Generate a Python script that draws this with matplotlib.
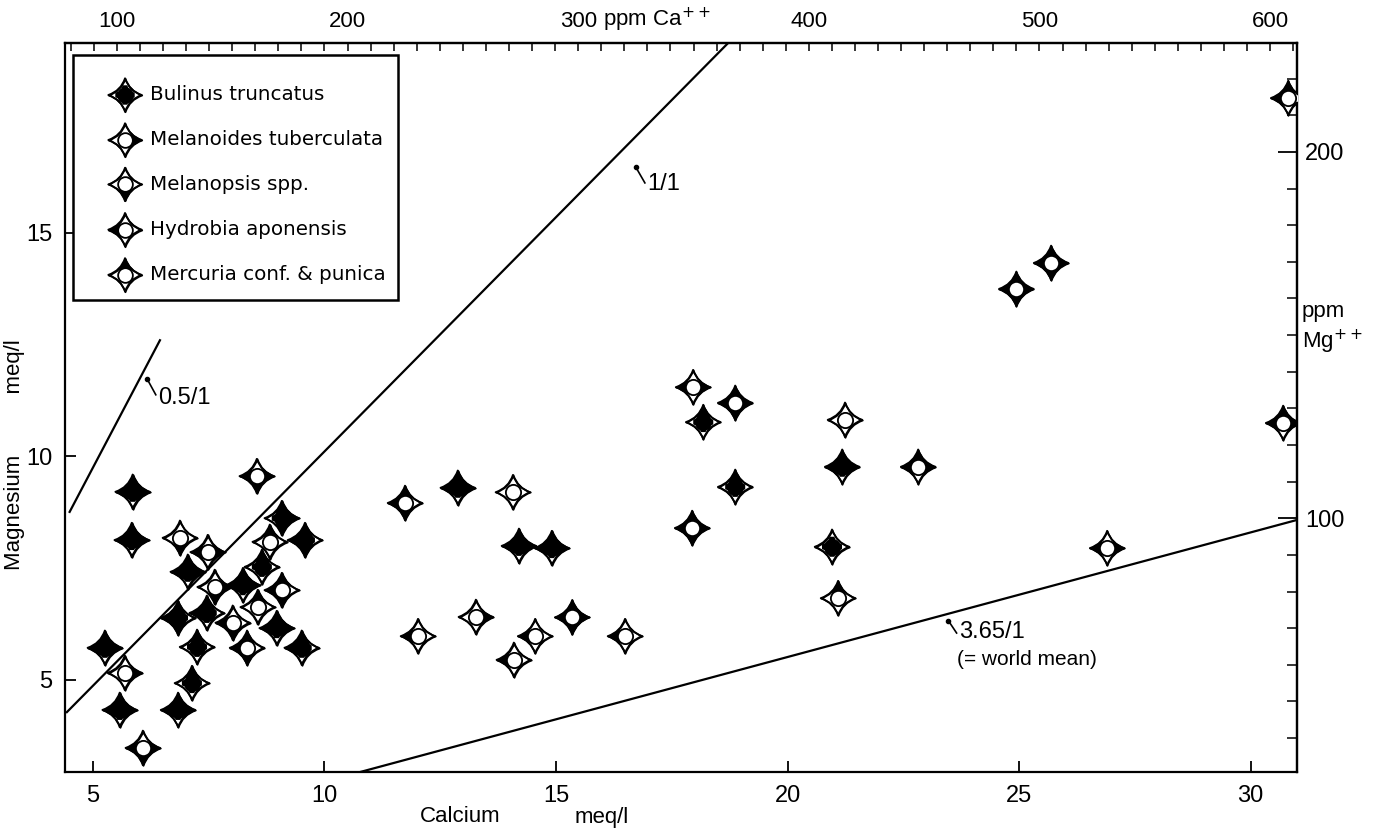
import numpy as np
import matplotlib
matplotlib.use("Agg")
import matplotlib.pyplot as plt
from matplotlib.path import Path
from matplotlib.ticker import MultipleLocator, FixedLocator
from matplotlib import font_manager

# sites: calcium / magnesium in meq/l and the snails found there (1 = present)
ca_meq = [5.86, 8.54, 5.84, 6.88, 7.48, 7.05, 9.08, 8.82, 9.58, 8.65,
          7.63, 8.24, 9.08, 8.56, 6.84, 7.46, 8.02, 8.97, 5.26, 7.25,
          8.33, 9.51, 5.69, 7.14, 5.58, 6.84, 6.08,
          11.74, 12.02, 12.88, 14.07, 14.20, 14.91, 13.27, 14.55, 15.35, 14.09, 16.49,
          17.96, 18.87, 18.18, 21.24, 18.87, 21.18, 22.82, 17.94, 20.96, 21.09,
          26.90, 24.94, 25.69, 30.81, 30.70]
mg_meq = [9.21, 9.56, 8.13, 8.18, 7.86, 7.42, 8.62, 8.09, 8.13, 7.53,
          7.08, 7.12, 7.01, 6.63, 6.39, 6.50, 6.28, 6.16, 5.72, 5.74,
          5.72, 5.72, 5.16, 4.93, 4.33, 4.33, 3.48,
          8.96, 5.98, 9.30, 9.20, 8.00, 7.95, 6.41, 5.98, 6.40, 5.45, 5.98,
          11.55, 11.20, 10.77, 10.82, 9.32, 9.77, 9.77, 8.40, 7.98, 6.83,
          7.95, 13.75, 14.33, 18.02, 10.75]
bulinus    = [1, 0, 1, 0, 0, 1, 1, 0, 1, 1, 0, 1, 0, 0, 1, 1, 0, 1, 1, 1,
              0, 1, 0, 1, 1, 1, 0,
              0, 0, 1, 0, 1, 1, 0, 0, 0, 0, 0,
              0, 0, 1, 0, 1, 1, 0, 0, 1, 0,
              0, 0, 0, 0, 0]
melanoides = [1, 1, 1, 0, 1, 1, 1, 0, 0, 0, 1, 1, 0, 0, 0, 0, 0, 1, 1, 0,
              0, 0, 1, 0, 1, 1, 1,
              0, 0, 1, 0, 1, 1, 1, 0, 1, 0, 0,
              1, 1, 0, 0, 0, 1, 1, 1, 0, 0,
              1, 1, 1, 0, 1]
melanopsis = [0, 1, 0, 1, 0, 0, 1, 0, 1, 0, 1, 0, 1, 0, 1, 0, 1, 0, 0, 0,
              1, 0, 0, 0, 0, 0, 1,
              1, 0, 0, 0, 0, 0, 0, 0, 1, 0, 0,
              0, 1, 0, 0, 0, 0, 0, 1, 0, 0,
              0, 1, 1, 0, 0]
hydrobia   = [1, 1, 1, 0, 1, 1, 0, 0, 1, 0, 0, 1, 1, 0, 1, 1, 1, 1, 1, 0,
              1, 1, 0, 0, 1, 1, 1,
              1, 1, 1, 0, 1, 1, 0, 1, 1, 1, 1,
              1, 1, 0, 0, 0, 1, 1, 1, 0, 0,
              1, 1, 1, 1, 1]
mercuria   = [1, 0, 1, 0, 0, 1, 1, 1, 1, 1, 0, 1, 1, 1, 1, 1, 0, 1, 1, 1,
              1, 1, 0, 1, 1, 1, 0,
              1, 0, 1, 0, 1, 1, 0, 0, 1, 0, 0,
              0, 1, 1, 0, 1, 1, 1, 1, 0, 1,
              0, 1, 1, 1, 1]

species = ["Bulinus truncatus", "Melanoides tuberculata", "Melanopsis spp.",
           "Hydrobia aponensis", "Mercuria conf. & punica"]

# ratio lines (Ca, Mg end points in meq/l)
line_1_1 = ([4.44, 19.08], [4.28, 19.63])
line_05_1 = ([4.50, 6.45], [8.76, 12.60])
line_365_1 = ([10.77, 31.0], [2.94, 8.58])

# secondary scales as drawn on the figure
def ca_meq_to_ppm(v):
    return (np.asarray(v) - 0.54) / 0.0498

def ca_ppm_to_meq(v):
    return np.asarray(v) * 0.0498 + 0.54

def mg_meq_to_ppm(v):
    return (np.asarray(v) - 0.42) * 12.2

def mg_ppm_to_meq(v):
    return np.asarray(v) / 12.2 + 0.42


# ---- marker pieces: four-pointed star with a central disc ----
C = 0.25
TIPS = [(0, 1), (1, 0), (0, -1), (-1, 0)]


def star_path():
    ctrl = [(C, C), (C, -C), (-C, -C), (-C, C)]
    verts = [TIPS[0]]
    codes = [Path.MOVETO]
    for i in range(4):
        verts += [ctrl[i], TIPS[(i + 1) % 4]]
        codes += [Path.CURVE3, Path.CURVE3]
    verts.append((0, 0))
    codes.append(Path.CLOSEPOLY)
    return Path(verts, codes)


def arm_path(k):
    w = 0.25 + 0.5 * C
    base = np.array([(0, 0), (-w, w), (-C / 2, (1 + C) / 2), (0, 1),
                     (C / 2, (1 + C) / 2), (w, w), (0, 0)])
    a = -k * np.pi / 2
    rot = np.array([[np.cos(a), -np.sin(a)], [np.sin(a), np.cos(a)]])
    verts = base @ rot.T
    codes = [Path.MOVETO, Path.LINETO, Path.CURVE3, Path.CURVE3,
             Path.CURVE3, Path.CURVE3, Path.CLOSEPOLY]
    return Path(verts, codes)


def with_scale_ref(path):
    # lone moveto at radius 1 keeps matplotlib's marker scaling equal for all pieces
    verts = np.vstack([[1, 0], path.vertices])
    codes = np.concatenate([[Path.MOVETO], path.codes])
    return Path(verts, codes)


def centre_path():
    pts = star_path().interpolated(40).vertices
    pts = np.clip(pts, -0.58, 0.58)
    return with_scale_ref(Path(pts, closed=True))


STAR = star_path()
ARMS = [arm_path(k) for k in range(4)]   # top, right, bottom, left
DISC = with_scale_ref(Path.circle((0, 0), 0.44))
CENTRE = centre_path()
MS = 620
LW = 1.3


def draw_sites(ax, x, y, b, m, s, h, c, transform=None, z=3, ms=MS):
    x = np.asarray(x, float)
    y = np.asarray(y, float)
    kw = {} if transform is None else {"transform": transform}
    ax.scatter(x, y, s=ms, marker=STAR, facecolor="white", edgecolor="black",
               linewidth=LW, zorder=z, **kw)
    b = np.asarray(b, bool)
    ax.scatter(x[b], y[b], s=ms, marker=CENTRE, facecolor="black",
               edgecolor="none", zorder=z + 1, **kw)
    for k, flag in enumerate([c, m, s, h]):
        f = np.asarray(flag, bool)
        ax.scatter(x[f], y[f], s=ms, marker=ARMS[k], facecolor="black",
                   edgecolor="black", linewidth=0.6, zorder=z + 2, **kw)
    ax.scatter(x[~b], y[~b], s=ms, marker=DISC, facecolor="white",
               edgecolor="black", linewidth=LW, zorder=z + 3, **kw)
    ax.scatter(x[b], y[b], s=ms, marker=DISC, facecolor="black",
               edgecolor="black", linewidth=LW, zorder=z + 3, **kw)
    ax.scatter(x, y, s=ms, marker=STAR, facecolor="none", edgecolor="black",
               linewidth=LW, zorder=z + 4, **kw)


installed = {f.name for f in font_manager.fontManager.ttflist}
narrow = [f for f in ["Liberation Sans Narrow", "Liberation Sans", "DejaVu Sans"] if f in installed]

fig = plt.figure(figsize=(13.86, 8.35), dpi=100)
ax = fig.add_axes([0.0469, 0.0754, 0.8889, 0.8731])
ax.set_xlim(4.4, 31.0)
ax.set_ylim(2.94, 19.25)

for sp in ax.spines.values():
    sp.set_linewidth(1.6)

ax.set_xticks([5, 10, 15, 20, 25, 30])
ax.set_yticks([5, 10, 15])
ax.tick_params(direction="in", length=8, width=1.3, pad=9)
for lab in ax.get_xticklabels() + ax.get_yticklabels():
    lab.set_fontfamily(narrow)
    lab.set_fontsize(17)

top = ax.secondary_xaxis("top", functions=(ca_meq_to_ppm, ca_ppm_to_meq))
top.xaxis.set_major_locator(FixedLocator([100, 200, 300, 400, 500, 600]))
top.xaxis.set_minor_locator(MultipleLocator(10))
top.tick_params(which="both", direction="in", length=6, width=1.1, pad=8)
top.tick_params(labelsize=16)
for lab in top.get_xticklabels():
    lab.set_fontfamily(narrow)
top.spines["top"].set_linewidth(1.6)

right = ax.secondary_yaxis("right", functions=(mg_meq_to_ppm, mg_ppm_to_meq))
right.yaxis.set_major_locator(FixedLocator([100, 200]))
right.yaxis.set_minor_locator(MultipleLocator(10))
right.tick_params(which="major", direction="in", length=14, width=1.3, pad=6)
right.tick_params(which="minor", direction="in", length=7, width=1.1)
right.tick_params(labelsize=17)
for lab in right.get_yticklabels():
    lab.set_fontfamily(narrow)
right.spines["right"].set_linewidth(1.6)

# ratio lines
for xs, ys in (line_1_1, line_05_1, line_365_1):
    ax.plot(xs, ys, color="black", linewidth=1.6, zorder=2)

# small hooked leaders and ratio labels
def leader(x0, y0, x1, y1):
    ax.plot([x0, x1], [y0, y1], color="black", linewidth=1.2, zorder=2)
    ax.plot([x0], [y0], "o", color="black", markersize=3, zorder=2)

leader(16.72, 16.48, 16.92, 16.12)
ax.text(16.98, 16.10, "1/1", fontsize=17, family=narrow, va="center", ha="left")
leader(6.17, 11.74, 6.36, 11.38)
ax.text(6.42, 11.30, "0.5/1", fontsize=17, family=narrow, va="center", ha="left")
leader(23.47, 6.33, 23.65, 6.05)
ax.text(23.70, 6.08, "3.65/1", fontsize=17, family=narrow, va="center", ha="left")
ax.text(23.65, 5.45, "(= world mean)", fontsize=15, family=narrow, va="center", ha="left")

draw_sites(ax, ca_meq, mg_meq, bulinus, melanoides, melanopsis, hydrobia, mercuria)

# legend box drawn in axes coordinates
ax.add_patch(plt.Rectangle((0.0065, 0.6475), 0.2635, 0.336, transform=ax.transAxes,
                           facecolor="white", edgecolor="black", linewidth=1.8, zorder=10))
ley = [0.9287, 0.867, 0.806, 0.744, 0.682]
lx = [0.0487] * 5
eye = np.eye(5, dtype=int)
draw_sites(ax, lx, ley, eye[0], eye[1], eye[2], eye[3], eye[4],
           transform=ax.transAxes, z=11, ms=580)
for yy, name in zip(ley, species):
    ax.text(0.0690, yy, name, transform=ax.transAxes, fontsize=14.3,
            va="center", ha="left", zorder=17)

# axis titles
ax.text(-0.041, 0.435, "Magnesium          meq/l", transform=ax.transAxes, rotation=90,
        fontsize=16, family=narrow, va="center", ha="center")
fig.text(460 / 1386, 1 - 817 / 835, "Calcium", fontsize=16, family=narrow,
         va="center", ha="center")
fig.text(602 / 1386, 1 - 817 / 835, "meq/l", fontsize=16, family=narrow,
         va="center", ha="center")
fig.text(603 / 1386, 1 - 20 / 835, "ppm Ca$^{++}$", fontsize=16, family=narrow,
         va="center", ha="left")
fig.text(1302 / 1386, 1 - 312 / 835, "ppm", fontsize=16, family=narrow, va="center", ha="left")
fig.text(1302 / 1386, 1 - 342 / 835, "Mg$^{++}$", fontsize=16, family=narrow,
         va="center", ha="left")

fig.savefig("out.png", dpi=100)
